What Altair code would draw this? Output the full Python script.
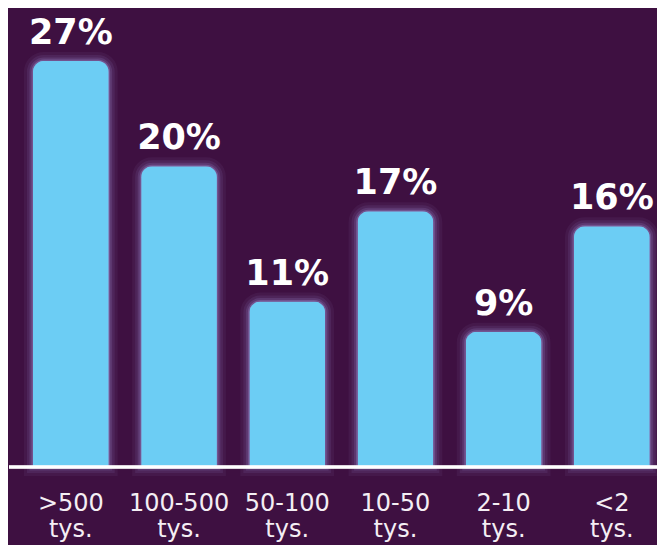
import altair as alt
import pandas as pd

categories = [">500|tys.", "100-500|tys.", "50-100|tys.", "10-50|tys.", "2-10|tys.", "<2|tys."]
values = [27, 20, 11, 17, 9, 16]
labels = ["27%", "20%", "11%", "17%", "9%", "16%"]

df = pd.DataFrame({"cat": categories, "val": values, "label": labels})

BG = "#3e1041"
BAR = "#6ccdf4"
GLOW = "#b4a8f0"

x = alt.X("cat:N", sort=categories,
          scale=alt.Scale(paddingInner=0.3, paddingOuter=0.149, align=0.774),
          axis=alt.Axis(title=None, domain=False, ticks=False,
                        labelAngle=0, labelExpr="split(datum.label, '|')",
                        labelFont="DejaVu Sans", labelFontSize=24,
                        labelColor="#f4eef4", labelLineHeight=26,
                        labelBaseline="top", labelPadding=24))
y = alt.Y("val:Q", scale=alt.Scale(domain=[0, 30.52], nice=False, zero=True),
          axis=None)

base = alt.Chart(df).encode(x=x, y=y)

glows = []
for sw, op in [(18, 0.06), (12, 0.09), (7, 0.14), (3, 0.25)]:
    glows.append(base.mark_bar(cornerRadiusTopLeft=11, cornerRadiusTopRight=11,
                               fill=BAR, fillOpacity=0, stroke=GLOW,
                               strokeWidth=sw, strokeOpacity=op))

bars = base.mark_bar(cornerRadiusTopLeft=11, cornerRadiusTopRight=11, color=BAR)

text = base.mark_text(baseline="alphabetic", dy=-17, font="DejaVu Sans",
                      fontWeight="bold", fontSize=35, color="white").encode(text="label:N")

baseline = alt.Chart(df).mark_rule(color="white", strokeWidth=2.5).encode(
    x=alt.value(1), x2=alt.value(649), y=alt.value(459))

chart = alt.layer(*glows, bars, baseline, text).properties(
    width=649, height=459,
    background=BG,
    padding={"left": 0, "top": 0, "right": 0, "bottom": 78},
    autosize=alt.AutoSizeParams(type="none"),
).configure_view(stroke=None)

chart.save("out.html", embed_options={"renderer": "svg", "actions": False})
